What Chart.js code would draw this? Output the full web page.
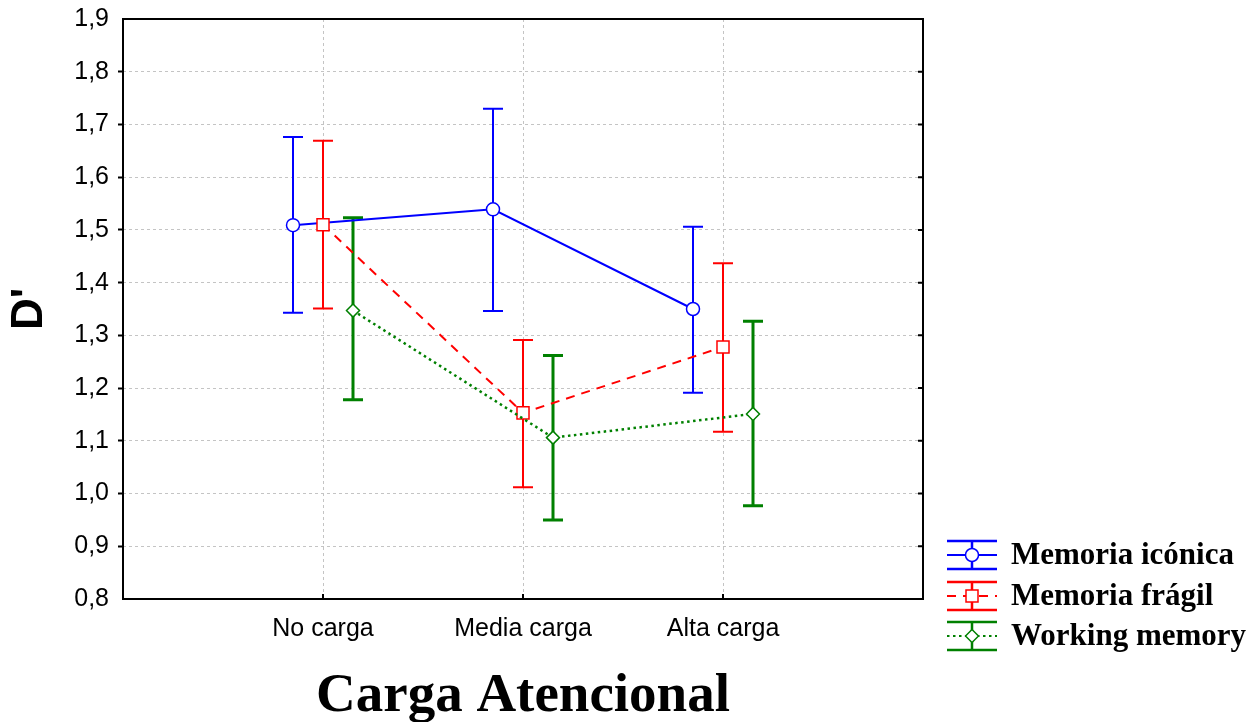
<!DOCTYPE html>
<html>
<head>
<meta charset="utf-8">
<script src="https://cdn.jsdelivr.net/npm/chart.js@4.4.0/dist/chart.umd.min.js"></script>
<style>
  html, body { margin: 0; padding: 0; background: #fff; }
  #wrap { width: 1255px; height: 722px; position: relative; }
</style>
</head>
<body>
<div id="wrap"><canvas id="dChart"></canvas></div>
<script>
var categories = ['No carga', 'Media carga', 'Alta carga'];
var seriesNames = ['Memoria icónica', 'Memoria frágil', 'Working memory'];

var iconicaMean = [1.509, 1.539, 1.350];
var iconicaLow = [1.343, 1.346, 1.191];
var iconicaHigh = [1.676, 1.730, 1.506];

var fragilMean = [1.510, 1.153, 1.278];
var fragilLow = [1.351, 1.012, 1.117];
var fragilHigh = [1.669, 1.291, 1.437];

var workingMean = [1.347, 1.106, 1.151];
var workingLow = [1.178, 0.950, 0.977];
var workingHigh = [1.523, 1.262, 1.327];

var yMin = 0.8, yMax = 1.9, yStep = 0.1;

document.addEventListener("DOMContentLoaded", function () {
    var ctx = document.getElementById('dChart').getContext('2d');

    // small sideways shift so the three series don't sit on top of each other
    var shift = [-0.15, 0, 0.15];

    function points(means, s) {
        return means.map(function (v, i) {
            return { x: i + 1 + shift[s], y: v };
        });
    }

    function isEdge(v) {
        return Math.abs(v - yMin) < 1e-6 || Math.abs(v - yMax) < 1e-6;
    }

    var errorBars = {
        id: 'errorBars',
        beforeDatasetsDraw: function (chart) {
            var c = chart.ctx, xs = chart.scales.x, ys = chart.scales.y;
            chart.data.datasets.forEach(function (ds) {
                c.save();
                c.strokeStyle = ds.borderColor;
                c.lineWidth = ds.errWidth;
                c.setLineDash([]);
                ds.data.forEach(function (pt, i) {
                    var px = xs.getPixelForValue(pt.x);
                    var top = ys.getPixelForValue(ds.errHigh[i]);
                    var bot = ys.getPixelForValue(ds.errLow[i]);
                    c.beginPath();
                    c.moveTo(px, top); c.lineTo(px, bot);
                    c.moveTo(px - 10, top); c.lineTo(px + 10, top);
                    c.moveTo(px - 10, bot); c.lineTo(px + 10, bot);
                    c.stroke();
                });
                c.restore();
            });
        }
    };

    var frame = {
        id: 'frame',
        afterDraw: function (chart) {
            var c = chart.ctx, a = chart.chartArea;
            var xs = chart.scales.x, ys = chart.scales.y;
            c.save();
            c.strokeStyle = '#000';
            c.lineWidth = 2;
            c.setLineDash([]);
            c.strokeRect(a.left, a.top, a.right - a.left, a.bottom - a.top);
            c.beginPath();
            categories.forEach(function (cat, i) {
                var px = xs.getPixelForValue(i + 1);
                c.moveTo(px, a.bottom); c.lineTo(px, a.bottom - 5);
            });
            ys.ticks.forEach(function (t) {
                if (isEdge(t.value)) return;
                var py = ys.getPixelForValue(t.value);
                c.moveTo(a.right, py); c.lineTo(a.right - 5, py);
            });
            c.stroke();
            c.restore();
        }
    };

    function marker(c, style, x, y, color) {
        c.save();
        c.setLineDash([]);
        c.fillStyle = '#fff';
        c.strokeStyle = color;
        c.lineWidth = 1.5;
        c.beginPath();
        if (style === 'circle') {
            c.arc(x, y, 6.5, 0, Math.PI * 2);
        } else if (style === 'rect') {
            c.rect(x - 6, y - 6, 12, 12);
        } else {
            c.moveTo(x - 6.5, y); c.lineTo(x, y - 6.5);
            c.lineTo(x + 6.5, y); c.lineTo(x, y + 6.5);
            c.closePath();
        }
        c.fill();
        c.stroke();
        c.restore();
    }

    var legendBox = {
        id: 'legendBox',
        afterDraw: function (chart) {
            var c = chart.ctx;
            var x0 = 947, x1 = 997, xm = 972, xt = 1011;
            var rowY = [555, 596, 636];
            chart.data.datasets.forEach(function (ds, i) {
                var y = rowY[i];
                c.save();
                c.strokeStyle = ds.borderColor;
                c.lineWidth = 2.5;
                c.setLineDash([]);
                c.beginPath();
                c.moveTo(x0, y - 14); c.lineTo(x1, y - 14);
                c.moveTo(x0, y + 14); c.lineTo(x1, y + 14);
                c.moveTo(xm, y - 14); c.lineTo(xm, y + 14);
                c.stroke();
                c.lineWidth = 2;
                c.setLineDash(ds.borderDash || []);
                c.beginPath();
                c.moveTo(x0, y); c.lineTo(x1, y);
                c.stroke();
                c.restore();
                marker(c, ds.pointStyle, xm, y, ds.borderColor);

                c.save();
                c.fillStyle = '#000';
                c.font = 'bold 31px "Liberation Serif", "Times New Roman", serif';
                c.textBaseline = 'middle';
                c.textAlign = 'left';
                c.fillText(ds.label, xt, y + 1);
                c.restore();
            });
        }
    };

    var dChart = new Chart(ctx, {
        type: 'line',
        data: {
            datasets: [{
                label: seriesNames[0],
                data: points(iconicaMean, 0),
                errLow: iconicaLow,
                errHigh: iconicaHigh,
                errWidth: 2,
                borderColor: '#0000ff',
                borderWidth: 2,
                pointStyle: 'circle',
                pointRadius: 6.5,
                pointBorderWidth: 1.5,
                pointBackgroundColor: '#fff',
                pointBorderColor: '#0000ff',
                order: 3
            }, {
                label: seriesNames[1],
                data: points(fragilMean, 1),
                errLow: fragilLow,
                errHigh: fragilHigh,
                errWidth: 2,
                borderColor: '#ff0000',
                borderWidth: 2,
                borderDash: [9, 7],
                pointStyle: 'rect',
                pointRadius: 8.5,
                pointBorderWidth: 1.5,
                pointBackgroundColor: '#fff',
                pointBorderColor: '#ff0000',
                order: 2
            }, {
                label: seriesNames[2],
                data: points(workingMean, 2),
                errLow: workingLow,
                errHigh: workingHigh,
                errWidth: 3,
                borderColor: '#008000',
                borderWidth: 2.5,
                borderDash: [2.5, 3.5],
                pointStyle: 'rectRot',
                pointRadius: 6.5,
                pointBorderWidth: 1.5,
                pointBackgroundColor: '#fff',
                pointBorderColor: '#008000',
                order: 1
            }]
        },
        options: {
            responsive: true,
            maintainAspectRatio: false,
            animation: false,
            layout: {
                padding: { left: 0, top: 19, right: 332, bottom: 0 }
            },
            scales: {
                x: {
                    type: 'linear',
                    min: 0,
                    max: 4,
                    afterFit: function (scale) { scale.height = 123; },
                    ticks: {
                        stepSize: 1,
                        autoSkip: false,
                        maxRotation: 0,
                        padding: 15,
                        color: '#000',
                        font: { family: '"Liberation Sans", Arial, sans-serif', size: 25 },
                        callback: function (v) { return categories[v - 1] || ''; }
                    },
                    grid: {
                        drawTicks: false,
                        color: function (c) {
                            var v = c.tick ? c.tick.value : 0;
                            return (v === 0 || v === 4) ? 'rgba(0,0,0,0)' : '#c4c4c4';
                        }
                    },
                    border: { display: false, dash: [3, 3] },
                    title: {
                        display: true,
                        text: 'Carga Atencional',
                        color: '#000',
                        padding: { top: 0, bottom: 0 },
                        font: { family: '"Liberation Serif", "Times New Roman", serif', size: 55, weight: 'bold', lineHeight: 0.9 }
                    }
                },
                y: {
                    min: yMin,
                    max: yMax,
                    afterFit: function (scale) { scale.width = 123; },
                    ticks: {
                        stepSize: yStep,
                        padding: 9,
                        color: '#000',
                        font: { family: '"Liberation Sans", Arial, sans-serif', size: 25, lineHeight: 0.8 },
                        callback: function (v) { return v.toFixed(1).replace('.', ','); }
                    },
                    grid: {
                        tickLength: 5,
                        tickWidth: 2,
                        tickBorderDash: [],
                        color: function (c) {
                            return (c.tick && isEdge(c.tick.value)) ? 'rgba(0,0,0,0)' : '#c4c4c4';
                        },
                        tickColor: function (c) {
                            return (c.tick && isEdge(c.tick.value)) ? 'rgba(0,0,0,0)' : '#000';
                        }
                    },
                    border: { display: false, dash: [3, 3] },
                    title: {
                        display: true,
                        text: "D'",
                        color: '#000',
                        padding: { top: 3, bottom: 0 },
                        font: { family: '"Liberation Sans", Arial, sans-serif', size: 44, weight: 'bold' }
                    }
                }
            },
            plugins: {
                legend: { display: false },
                tooltip: { enabled: false }
            }
        },
        plugins: [errorBars, frame, legendBox]
    });
});
</script>
</body>
</html>
